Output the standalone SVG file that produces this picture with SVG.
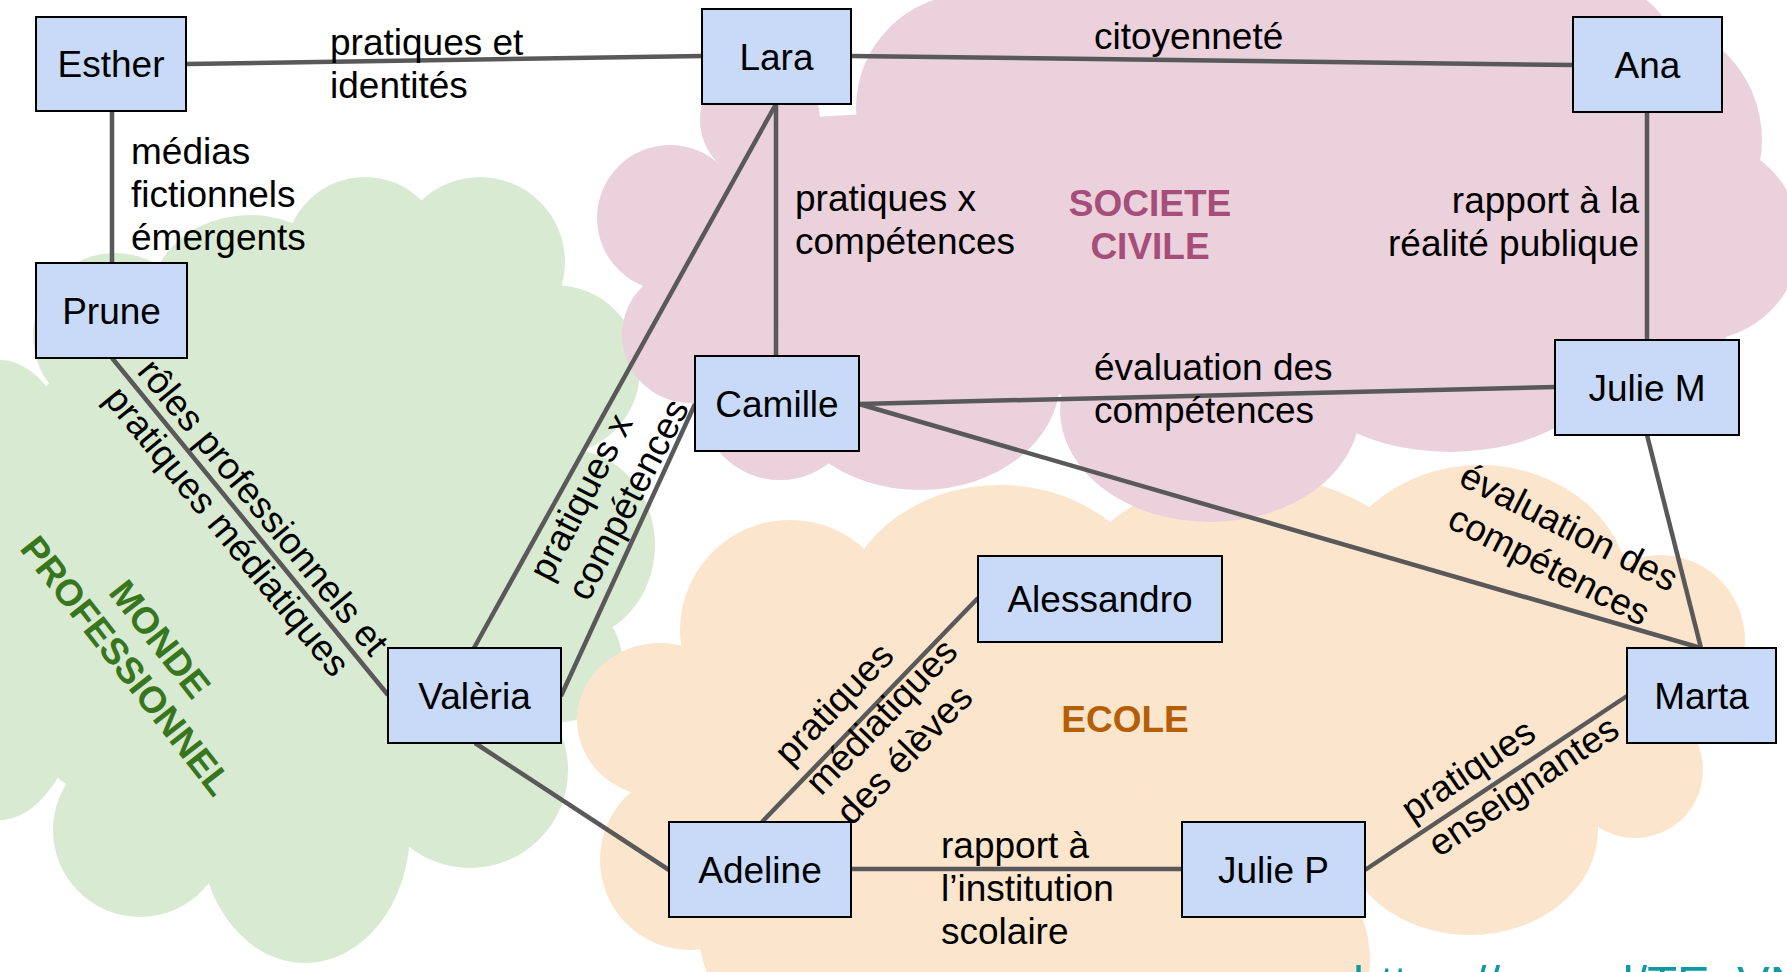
<svg xmlns="http://www.w3.org/2000/svg" width="1787" height="972" viewBox="0 0 1787 972">
<style>
.box{fill:#c9daf8;stroke:#000;stroke-width:2}
.t{font-family:"Liberation Sans",Arial,sans-serif;font-size:37px;fill:#000}
.nm{text-anchor:middle}
.edge{stroke:#595959;stroke-width:4.5;fill:none}
.cat{font-family:"Liberation Sans",Arial,sans-serif;font-size:37px;font-weight:bold}
</style>
<rect width="1787" height="972" fill="#fff"/>
<g id="cloud-monde-professionnel" fill="#d9ead3">
<polygon points="0,420 115,335 250,300 365,257 480,262 555,370 570,545 560,660 470,770 305,830 140,830 60,780 0,700"/>
<circle cx="115" cy="335" r="82"/>
<ellipse cx="250" cy="300" rx="100" ry="85"/>
<circle cx="365" cy="257" r="80"/>
<circle cx="480" cy="262" r="85"/>
<circle cx="555" cy="370" r="85"/>
<ellipse cx="570" cy="545" rx="85" ry="95"/>
<circle cx="560" cy="660" r="62"/>
<circle cx="470" cy="770" r="98"/>
<ellipse cx="305" cy="830" rx="105" ry="133"/>
<circle cx="140" cy="830" r="87"/>
<ellipse cx="0" cy="590" rx="100" ry="230"/>
</g>
<g id="cloud-ecole" fill="#fce5cd">
<polygon points="690,860 660,720 790,630 1000,620 1250,620 1480,595 1660,640 1635,770 1470,830 1250,960 1000,972 780,972"/>
<circle cx="690" cy="860" r="90"/>
<ellipse cx="660" cy="720" rx="83" ry="77"/>
<circle cx="790" cy="630" r="110"/>
<ellipse cx="1000" cy="620" rx="160" ry="135"/>
<ellipse cx="1250" cy="620" rx="190" ry="145"/>
<ellipse cx="1480" cy="595" rx="150" ry="130"/>
<circle cx="1660" cy="640" r="85"/>
<circle cx="1635" cy="770" r="68"/>
<ellipse cx="1470" cy="830" rx="128" ry="105"/>
<circle cx="1250" cy="960" r="120"/>
<ellipse cx="1000" cy="900" rx="280" ry="120"/>
<circle cx="780" cy="940" r="80"/>
</g>
<g id="cloud-societe-civile" fill="#ead1dc">
<polygon points="760,120 970,108 1150,40 1400,40 1590,70 1640,140 1700,240 1640,320 1450,340 1210,410 920,380 780,400 690,335 670,218"/>
<circle cx="760" cy="120" r="60"/>
<circle cx="970" cy="108" r="114"/>
<circle cx="1150" cy="40" r="150"/>
<circle cx="1400" cy="40" r="180"/>
<circle cx="1590" cy="70" r="90"/>
<circle cx="1640" cy="140" r="122"/>
<circle cx="1700" cy="240" r="100"/>
<ellipse cx="1640" cy="320" rx="90" ry="60"/>
<ellipse cx="1450" cy="340" rx="170" ry="112"/>
<ellipse cx="1210" cy="410" rx="150" ry="112"/>
<ellipse cx="920" cy="380" rx="140" ry="110"/>
<circle cx="780" cy="400" r="80"/>
<circle cx="690" cy="335" r="68"/>
<circle cx="670" cy="218" r="73"/>
</g>
<g id="region-labels">
<text class="cat" fill="#a64d79" text-anchor="middle"><tspan x="1150" y="216">SOCIETE</tspan><tspan x="1150" y="259">CIVILE</tspan></text>
<text class="cat" fill="#b45f06" text-anchor="middle" x="1125" y="732">ECOLE</text>
<text class="cat" fill="#38761d" text-anchor="middle" transform="translate(150,647) rotate(52)"><tspan x="0" y="0">MONDE</tspan><tspan x="0" y="43">PROFESSIONNEL</tspan></text>
</g>
<g id="connectors" class="edge">
<line x1="187" y1="64" x2="702" y2="56"/>
<line x1="851" y1="56" x2="1573" y2="65"/>
<line x1="112" y1="111" x2="112" y2="263"/>
<line x1="776" y1="104" x2="776" y2="356"/>
<line x1="776" y1="104" x2="474" y2="648"/>
<line x1="695" y1="404" x2="561" y2="696"/>
<line x1="112" y1="358" x2="388" y2="695"/>
<line x1="1647" y1="112" x2="1647" y2="340"/>
<line x1="859" y1="404" x2="1555" y2="387"/>
<line x1="859" y1="404" x2="1701" y2="648"/>
<line x1="1647" y1="435" x2="1701" y2="648"/>
<line x1="475" y1="743" x2="669" y2="870"/>
<line x1="762" y1="822" x2="978" y2="598"/>
<line x1="851" y1="869" x2="1182" y2="869"/>
<line x1="1365" y1="870" x2="1627" y2="696"/>
</g>
<g id="connector-labels" class="t">
<text><tspan x="330" y="55">pratiques et</tspan><tspan x="330" y="98">identités</tspan></text>
<text><tspan x="131" y="164">médias</tspan><tspan x="131" y="207">fictionnels</tspan><tspan x="131" y="250">émergents</tspan></text>
<text><tspan x="795" y="211">pratiques x</tspan><tspan x="795" y="254">compétences</tspan></text>
<text x="1094" y="49">citoyenneté</text>
<text text-anchor="end"><tspan x="1639" y="213">rapport à la</tspan><tspan x="1639" y="256">réalité publique</tspan></text>
<text><tspan x="1094" y="380">évaluation des</tspan><tspan x="1094" y="423">compétences</tspan></text>
<text><tspan x="941" y="858">rapport à</tspan><tspan x="941" y="901">l’institution</tspan><tspan x="941" y="944">scolaire</tspan></text>
<text transform="translate(136,372) rotate(50.6)"><tspan x="0" y="0">rôles professionnels et</tspan><tspan x="0" y="43">pratiques médiatiques</tspan></text>
<text transform="translate(550,583) rotate(-62.5)"><tspan x="0" y="0">pratiques x</tspan><tspan x="0" y="43">compétences</tspan></text>
<text transform="translate(790,767) rotate(-46)"><tspan x="0" y="0">pratiques</tspan><tspan x="0" y="43">médiatiques</tspan><tspan x="0" y="86">des élèves</tspan></text>
<text transform="translate(1457,484) rotate(27)"><tspan x="0" y="0">évaluation des</tspan><tspan x="9" y="43">compétences</tspan></text>
<text transform="translate(1412,823) rotate(-34)"><tspan x="0" y="0">pratiques</tspan><tspan x="3" y="44">enseignantes</tspan></text>
</g>
<g id="node-esther"><rect class="box" x="36" y="17" width="150" height="94"/><text class="t nm" x="111" y="77">Esther</text></g>
<g id="node-lara"><rect class="box" x="702" y="9" width="149" height="95"/><text class="t nm" x="776.5" y="70">Lara</text></g>
<g id="node-ana"><rect class="box" x="1573" y="17" width="149" height="95"/><text class="t nm" x="1647.5" y="78">Ana</text></g>
<g id="node-prune"><rect class="box" x="36" y="263" width="151" height="95"/><text class="t nm" x="111.5" y="324">Prune</text></g>
<g id="node-camille"><rect class="box" x="695" y="356" width="164" height="95"/><text class="t nm" x="777" y="417">Camille</text></g>
<g id="node-julie-m"><rect class="box" x="1555" y="340" width="184" height="95"/><text class="t nm" x="1647" y="401">Julie M</text></g>
<g id="node-valeria"><rect class="box" x="388" y="648" width="173" height="95"/><text class="t nm" x="474.5" y="709">Valèria</text></g>
<g id="node-adeline"><rect class="box" x="669" y="822" width="182" height="95"/><text class="t nm" x="760" y="883">Adeline</text></g>
<g id="node-alessandro"><rect class="box" x="978" y="556" width="244" height="86"/><text class="t nm" x="1100" y="612">Alessandro</text></g>
<g id="node-marta"><rect class="box" x="1627" y="648" width="149" height="95"/><text class="t nm" x="1701.5" y="709">Marta</text></g>
<g id="node-julie-p"><rect class="box" x="1182" y="822" width="183" height="95"/><text class="t nm" x="1273.5" y="883">Julie P</text></g>
<text x="1353" y="1000" font-family="Liberation Sans, Arial, sans-serif" font-size="49" fill="#0f9aa3">https://goo.gl/TE_VN</text>
</svg>
